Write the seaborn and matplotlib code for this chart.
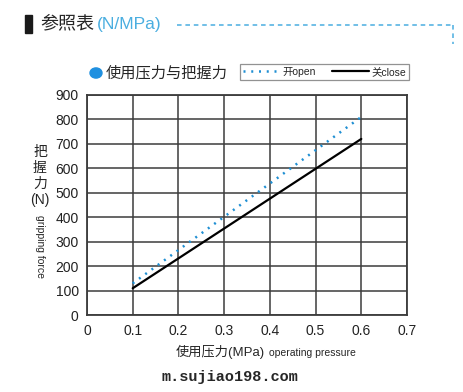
import pandas as pd
import seaborn as sns
import matplotlib.pyplot as plt
from matplotlib.lines import Line2D
from matplotlib.patches import Rectangle, Circle

# data
pressure = [0.1, 0.2, 0.3, 0.4, 0.5, 0.6]
force_open = [130, 266, 402, 538, 674, 810]
force_close = [110, 232, 354, 476, 598, 720]
x_ticks = [0, 0.1, 0.2, 0.3, 0.4, 0.5, 0.6, 0.7]
y_ticks = [0, 100, 200, 300, 400, 500, 600, 700, 800, 900]

df = pd.DataFrame({
    "pressure": pressure * 2,
    "force": force_open + force_close,
    "state": ["开open"] * len(pressure) + ["关close"] * len(pressure),
})

sns.set_style("white")
plt.rcParams['font.family'] = ['Liberation Sans', 'Noto Sans CJK SC']

blue = "#1f8fd3"
grid_c = "#3c3c3c"
dots = (0.8, 2.3)

fig = plt.figure(figsize=(4.64, 3.92), dpi=100)
ax = fig.add_axes([0.1875, 0.196, 0.6897, 0.562])

sns.lineplot(data=df, x="pressure", y="force", hue="state", style="state",
             palette={"开open": blue, "关close": "black"},
             dashes={"开open": dots, "关close": ""},
             linewidth=1.8, legend=False, ax=ax)
ax.lines[1].set_linewidth(1.6)

ax.set_xlim(0, 0.7)
ax.set_ylim(0, 900)
ax.set_xticks(x_ticks)
ax.set_xticklabels(["0" if t == 0 else f"{t:.1f}" for t in x_ticks])
ax.set_yticks(y_ticks)
ax.grid(True, color=grid_c, linewidth=1.1)
ax.set_axisbelow(True)
for s in ax.spines.values():
    s.set_color(grid_c)
    s.set_linewidth(1.3)
ax.tick_params(labelsize=10, colors="#222222", length=0, pad=6)
ax.set_xlabel("")
ax.set_ylabel("")

# x label
fig.text(176 / 464, 1 - 352 / 392, "使用压力(MPa)", fontsize=9.5, ha="left", va="center")
fig.text(269 / 464, 1 - 353 / 392, "operating pressure", fontsize=7.5, ha="left", va="center")

# y label, stacked characters
for ch, yy in zip(["把", "握", "力", "(N)"], [152, 168, 184, 200]):
    fig.text(40 / 464, 1 - yy / 392, ch, fontsize=10, ha="center", va="center")
fig.text(40 / 464, 1 - 247 / 392, "gripping force", fontsize=7.5,
         rotation=270, ha="center", va="center")

# header
fig.patches.append(Rectangle((25 / 464, 1 - 33 / 392), 7 / 464, 18 / 392,
                             transform=fig.transFigure, color="#1a1a1a"))
fig.text(40 / 464, 1 - 24 / 392, "参照表", fontsize=13, ha="left", va="center")
fig.text(97 / 464, 1 - 24 / 392, "(N/MPa)", fontsize=12.5, color="#4aaee0",
         ha="left", va="center")
fig.lines.append(Line2D([177 / 464, 453 / 464], [1 - 25 / 392, 1 - 25 / 392],
                        transform=fig.transFigure, color="#4aaee0",
                        linestyle=(0, (3, 2.5)), linewidth=1.1))
fig.lines.append(Line2D([453 / 464, 453 / 464], [1 - 25 / 392, 1 - 44 / 392],
                        transform=fig.transFigure, color="#4aaee0",
                        linestyle=(0, (3, 2.5)), linewidth=1.1))

# subtitle
fig.patches.append(Circle((96 / 464, 1 - 73 / 392), 6 / 464,
                          transform=fig.transFigure, color="#1f90e0"))
fig.text(106 / 464, 1 - 73 / 392, "使用压力与把握力", fontsize=11,
         ha="left", va="center")

# legend
handles = [Line2D([], [], color=blue, linestyle=(0, dots), linewidth=1.8),
           Line2D([], [], color="black", linewidth=1.6)]
leg = fig.legend(handles, ["开open", "关close"], ncol=2, loc="center left",
                 bbox_to_anchor=(240 / 464, 1 - 72 / 392), fontsize=7.5,
                 frameon=True, fancybox=False, edgecolor="#777777",
                 handlelength=3.5, handletextpad=0.3, columnspacing=1.6,
                 borderpad=0.25, borderaxespad=0)
leg.get_frame().set_linewidth(0.9)

# watermark
fig.text(230 / 464, 1 - 377 / 392, "m.sujiao198.com", fontsize=11,
         family="Liberation Mono", weight="bold", ha="center", va="center")

fig.savefig("out.png", dpi=100)
